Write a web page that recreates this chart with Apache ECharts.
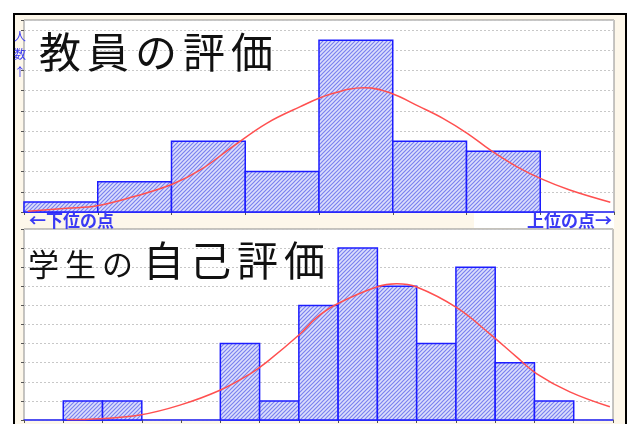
<!DOCTYPE html>
<html>
<head>
<meta charset="utf-8">
<script src="https://cdn.jsdelivr.net/npm/echarts@6/dist/echarts.min.js"></script>
<style>
  html, body { margin: 0; padding: 0; background: #fff; }
  #chart { width: 628px; height: 424px; }
</style>
</head>
<body>
<div id="chart"></div>
<script>
// 教員の評価 — number of people per score bin (low → high)
const teacherCounts = [1, 3, 7, 4, 17, 7, 6, 0];
// 学生の自己評価 — number of people per score bin (low → high)
const studentCounts = [0, 1, 1, 0, 0, 4, 1, 6, 9, 7, 4, 8, 3, 1, 0];

// fitted normal curves: position in bins and height in people
const teacherCurveX = [0.05, 0.58, 0.99, 1.48, 2.01, 2.39, 2.83, 3.29, 3.74, 4.15, 4.62, 4.96, 5.37, 5.68, 6.01, 6.32, 6.68, 7.0, 7.4, 7.95];
const teacherCurveY = [0.08, 0.37, 0.62, 1.5, 2.74, 4.16, 6.47, 8.78, 10.4, 11.65, 12.3, 11.8, 10.4, 9.27, 7.79, 6.14, 4.49, 3.33, 2.18, 0.97];
const studentCurveX = [1.09, 1.94, 2.95, 3.97, 4.99, 5.76, 6.18, 7.03, 7.45, 7.96, 8.98, 9.49, 10.0, 11.02, 11.87, 12.55, 13.06, 13.9, 14.92];
const studentCurveY = [0.02, 0.07, 0.26, 0.78, 1.56, 2.42, 3.03, 4.5, 5.36, 6.06, 6.96, 7.13, 6.96, 5.88, 4.5, 3.29, 2.42, 1.47, 0.69];

// axis ranges (people) and gridline steps
const teacherMax = 19, teacherStep = 2;
const studentMax = 10, studentStep = 1;

// texts
const teacherTitle = '教員の評価';
const studentTitleSmall = '学生の';
const studentTitleLarge = '自己評価';
const lowLabel = '←下位の点';
const highLabel = '上位の点→';
const yLabel = '人\n数\n↑';

// diagonal hatch used for the bars
const hatch = document.createElement('canvas');
hatch.width = 4; hatch.height = 4;
(function () {
  const g = hatch.getContext('2d');
  g.fillStyle = '#dcdffc';
  g.fillRect(0, 0, 4, 4);
  g.strokeStyle = '#7a81ef';
  g.lineWidth = 1.2;
  g.beginPath();
  g.moveTo(-1, 5); g.lineTo(5, -1);
  g.moveTo(-1, 1); g.lineTo(1, -1);
  g.moveTo(3, 5); g.lineTo(5, 3);
  g.stroke();
})();
const hatchFill = { image: hatch, repeat: 'repeat' };

function binData(counts) {
  return counts.map((c, i) => [i, i + 1, c]);
}
function curveData(xs, ys) {
  return xs.map((x, i) => [x, ys[i]]);
}

function renderBar(params, api) {
  const v = api.value(2);
  if (!v) return null;
  const p0 = api.coord([api.value(0), v]);
  const p1 = api.coord([api.value(1), 0]);
  return {
    type: 'rect',
    shape: { x: p0[0], y: p0[1], width: p1[0] - p0[0], height: p1[1] - p0[1] },
    style: { fill: hatchFill, stroke: '#1c1cff', lineWidth: 1.5 }
  };
}

const FONT = '"Noto Sans CJK JP", "Noto Sans CJK SC", sans-serif';

function charRow(str, x0, pitch, yMid, size) {
  return str.split('').map((ch, i) => ({
    type: 'text', z: 100,
    x: x0 + i * pitch, y: yMid,
    style: { text: ch, font: `${size}px ${FONT}`, fill: '#111', align: 'left', verticalAlign: 'middle' }
  }));
}

function xAxes(gridIndex, nBins) {
  return [
    {
      type: 'value', gridIndex, min: 0, max: nBins, interval: 1, position: 'bottom',
      axisLine: { show: true, onZero: false, lineStyle: { color: '#2a2aff', width: 1.5 } },
      axisTick: { show: false }, axisLabel: { show: false }, splitLine: { show: false }
    },
    {
      type: 'value', gridIndex, min: 0, max: nBins, interval: 1, position: 'top',
      axisLine: { show: false },
      axisTick: { show: true, inside: true, length: 3, lineStyle: { color: '#555' } },
      axisLabel: { show: false }, splitLine: { show: false }
    }
  ];
}
function yAxis(gridIndex, max, step) {
  return {
    type: 'value', gridIndex, min: 0, max, interval: step, position: 'right',
    axisLine: { show: false },
    axisTick: { show: true, inside: true, length: 3, lineStyle: { color: '#555' } },
    axisLabel: { show: false },
    splitLine: { show: true, lineStyle: { color: '#c8c8c8', type: [2, 2], width: 1 } }
  };
}

const chart = echarts.init(document.getElementById('chart'), null, { renderer: 'canvas' });

chart.setOption({
  animation: false,
  backgroundColor: '#ffffff',
  grid: [
    { left: 24, top: 20, width: 590, height: 192, show: true, backgroundColor: '#fff', borderColor: '#8c8c8c', borderWidth: 1 },
    { left: 24, top: 229, width: 589, height: 191, show: true, backgroundColor: '#fff', borderColor: '#8c8c8c', borderWidth: 1 }
  ],
  xAxis: [...xAxes(0, teacherCounts.length), ...xAxes(1, studentCounts.length)],
  yAxis: [yAxis(0, teacherMax, teacherStep), yAxis(1, studentMax, studentStep)],
  graphic: [
    // cream frame with black edge
    { type: 'rect', z: -100, shape: { x: 14, y: 14, width: 612, height: 430 },
      style: { fill: '#fdf7ea', stroke: '#000', lineWidth: 2 } },
    // light strip behind the right-hand label
    { type: 'rect', z: -90, shape: { x: 474, y: 213, width: 140, height: 15 }, style: { fill: '#ffffff' } },
    ...charRow(teacherTitle, 39, 48, 52, 42),
    ...charRow(studentTitleSmall, 28, 37, 264, 31),
    ...charRow(studentTitleLarge, 143, 47, 260, 41),
    { type: 'text', z: 100, x: 29, y: 221,
      style: { text: lowLabel, font: `bold 17px ${FONT}`, fill: '#3a3af5', align: 'left', verticalAlign: 'middle' } },
    { type: 'text', z: 100, x: 612, y: 221,
      style: { text: highLabel, font: `bold 17px ${FONT}`, fill: '#3a3af5', align: 'right', verticalAlign: 'middle' } },
    { type: 'text', z: 100, x: 20, y: 27,
      style: { text: yLabel, font: `12px ${FONT}`, fill: '#3a3af5', align: 'center', verticalAlign: 'top', lineHeight: 18 } }
  ],
  series: [
    { type: 'custom', xAxisIndex: 0, yAxisIndex: 0, renderItem: renderBar,
      encode: { x: [0, 1], y: 2 }, data: binData(teacherCounts), z: 2 },
    { type: 'line', xAxisIndex: 0, yAxisIndex: 0, smooth: 0.4, showSymbol: false, symbol: 'none',
      lineStyle: { color: '#ff5050', width: 1.5 }, data: curveData(teacherCurveX, teacherCurveY), z: 3 },
    { type: 'custom', xAxisIndex: 2, yAxisIndex: 1, renderItem: renderBar,
      encode: { x: [0, 1], y: 2 }, data: binData(studentCounts), z: 2 },
    { type: 'line', xAxisIndex: 2, yAxisIndex: 1, smooth: 0.4, showSymbol: false, symbol: 'none',
      lineStyle: { color: '#ff5050', width: 1.5 }, data: curveData(studentCurveX, studentCurveY), z: 3 }
  ]
});
</script>
</body>
</html>
